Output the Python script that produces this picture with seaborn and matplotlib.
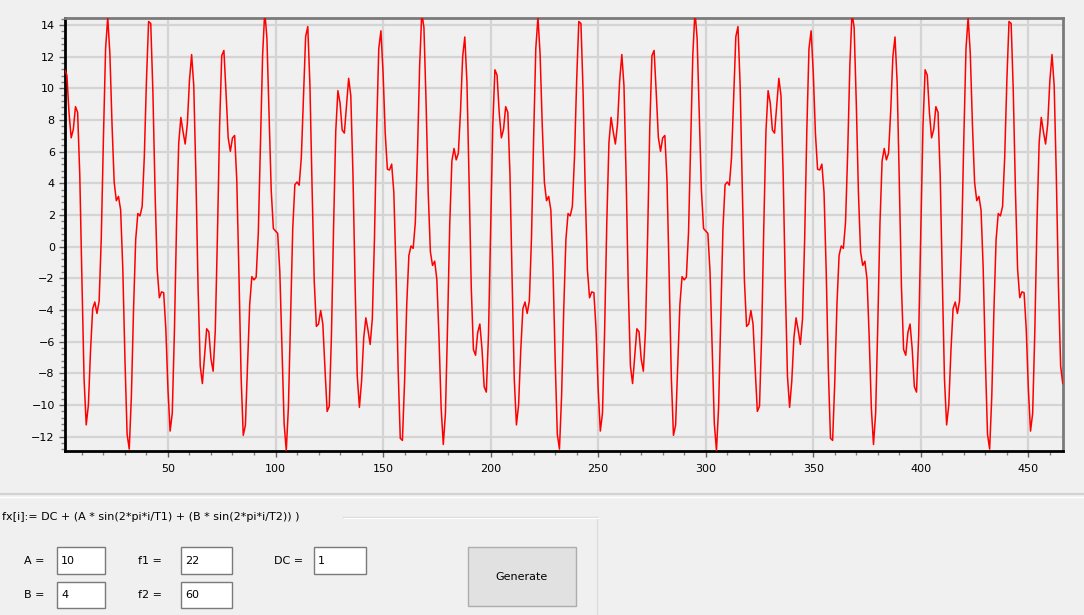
import numpy as np
import pandas as pd
import matplotlib
matplotlib.use("Agg")
import matplotlib.pyplot as plt
from matplotlib.patches import Rectangle
from matplotlib.ticker import MultipleLocator, AutoMinorLocator
import seaborn as sns

# ---------------- data ----------------
sample_index = list(range(2, 467))
fx_values = [
    11.18, 10.84, 8.47, 6.88, 7.41, 8.85, 8.49, 4.55, -2.09, -8.37,
    -11.25, -10.00, -6.57, -3.91, -3.49, -4.21, -3.43, 0.55, 6.88, 12.51,
    14.49, 12.19, 7.70, 4.07, 2.91, 3.18, 2.32, -1.38, -7.09, -11.84,
    -12.78, -9.41, -3.94, 0.46, 2.10, 1.95, 2.55, 5.67, 10.51, 14.23,
    14.10, 9.74, 3.47, -1.44, -3.22, -2.85, -2.90, -5.17, -9.00, -11.64,
    -10.51, -5.33, 1.48, 6.56, 8.17, 7.27, 6.49, 7.76, 10.51, 12.14,
    10.16, 4.42, -2.60, -7.54, -8.64, -6.94, -5.18, -5.37, -7.09, -7.86,
    -5.29, 0.71, 7.61, 12.07, 12.40, 9.72, 6.88, 6.03, 6.88, 7.03,
    4.18, -1.74, -8.20, -11.91, -11.27, -7.52, -3.64, -1.89, -2.09, -1.92,
    0.88, 6.38, 12.11, 14.88, 13.17, 8.37, 3.57, 1.15, 1.00, 0.85,
    -1.57, -6.37, -11.17, -12.88, -10.11, -4.38, 1.12, 3.92, 4.09, 3.89,
    5.64, 9.52, 13.27, 13.91, 10.20, 3.74, -2.18, -5.03, -4.88, -4.03,
    -4.88, -7.72, -10.40, -10.07, -5.61, 1.29, 7.29, 9.86, 9.09, 7.37,
    7.18, 8.94, 10.64, 9.54, 4.60, -2.42, -8.16, -10.14, -8.51, -5.76,
    -4.49, -5.27, -6.17, -4.56, 0.52, 7.33, 12.51, 13.64, 11.00, 7.17,
    4.90, 4.85, 5.22, 3.44, -1.47, -7.74, -12.10, -12.23, -8.51, -3.67,
    -0.55, 0.05, -0.10, 1.54, 5.94, 11.41, 14.78, 13.84, 9.09, 3.38,
    -0.32, -1.18, -0.91, -2.07, -5.70, -10.19, -12.49, -10.51, -4.88, 1.45,
    5.43, 6.21, 5.49, 5.91, 8.57, 12.00, 13.25, 10.37, 4.09, -2.55,
    -6.49, -6.85, -5.41, -4.88, -6.47, -8.84, -9.18, -5.62, 1.00, 7.62,
    11.18, 10.84, 8.47, 6.88, 7.41, 8.85, 8.49, 4.55, -2.09, -8.37,
    -11.25, -10.00, -6.57, -3.91, -3.49, -4.21, -3.43, 0.55, 6.88, 12.51,
    14.49, 12.19, 7.70, 4.07, 2.91, 3.18, 2.32, -1.38, -7.09, -11.84,
    -12.78, -9.41, -3.94, 0.46, 2.10, 1.95, 2.55, 5.67, 10.51, 14.23,
    14.10, 9.74, 3.47, -1.44, -3.22, -2.85, -2.90, -5.17, -9.00, -11.64,
    -10.51, -5.33, 1.48, 6.56, 8.17, 7.27, 6.49, 7.76, 10.51, 12.14,
    10.16, 4.42, -2.60, -7.54, -8.64, -6.94, -5.18, -5.37, -7.09, -7.86,
    -5.29, 0.71, 7.61, 12.07, 12.40, 9.72, 6.88, 6.03, 6.88, 7.03,
    4.18, -1.74, -8.20, -11.91, -11.27, -7.52, -3.64, -1.89, -2.09, -1.92,
    0.88, 6.38, 12.11, 14.88, 13.17, 8.37, 3.57, 1.15, 1.00, 0.85,
    -1.57, -6.37, -11.17, -12.88, -10.11, -4.38, 1.12, 3.92, 4.09, 3.89,
    5.64, 9.52, 13.27, 13.91, 10.20, 3.74, -2.18, -5.03, -4.88, -4.03,
    -4.88, -7.72, -10.40, -10.07, -5.61, 1.29, 7.29, 9.86, 9.09, 7.37,
    7.18, 8.94, 10.64, 9.54, 4.60, -2.42, -8.16, -10.14, -8.51, -5.76,
    -4.49, -5.27, -6.17, -4.56, 0.52, 7.33, 12.51, 13.64, 11.00, 7.17,
    4.90, 4.85, 5.22, 3.44, -1.47, -7.74, -12.10, -12.23, -8.51, -3.67,
    -0.55, 0.05, -0.10, 1.54, 5.94, 11.41, 14.78, 13.84, 9.09, 3.38,
    -0.32, -1.18, -0.91, -2.07, -5.70, -10.19, -12.49, -10.51, -4.88, 1.45,
    5.43, 6.21, 5.49, 5.91, 8.57, 12.00, 13.25, 10.37, 4.09, -2.55,
    -6.49, -6.85, -5.41, -4.88, -6.47, -8.84, -9.18, -5.62, 1.00, 7.62,
    11.18, 10.84, 8.47, 6.88, 7.41, 8.85, 8.49, 4.55, -2.09, -8.37,
    -11.25, -10.00, -6.57, -3.91, -3.49, -4.21, -3.43, 0.55, 6.88, 12.51,
    14.49, 12.19, 7.70, 4.07, 2.91, 3.18, 2.32, -1.38, -7.09, -11.84,
    -12.78, -9.41, -3.94, 0.46, 2.10, 1.95, 2.55, 5.67, 10.51, 14.23,
    14.10, 9.74, 3.47, -1.44, -3.22, -2.85, -2.90, -5.17, -9.00, -11.64,
    -10.51, -5.33, 1.48, 6.56, 8.17, 7.27, 6.49, 7.76, 10.51, 12.14,
    10.16, 4.42, -2.60, -7.54, -8.64,
]
y_ticks = list(range(-12, 15, 2))
x_ticks = list(range(50, 451, 50))
y_range = (-12.9, 14.45)
x_range = (1.9, 466.1)

formula_text = "fx[i]:= DC + (A * sin(2*pi*i/T1) + (B * sin(2*pi*i/T2)) )"
param_labels = ["A =", "B =", "f1 =", "f2 =", "DC ="]
param_values = ["10", "4", "22", "60", "1"]
button_text = "Generate"

assert len(sample_index) == len(fx_values)

# ---------------- figure ----------------
W, H = 1084, 615
BG = "#f0f0f0"
FONT = "DejaVu Sans"
plt.rcParams["font.family"] = [FONT]

fig = plt.figure(figsize=(W / 100, H / 100), dpi=100, facecolor=BG)

# background "window" canvas in pixel coordinates
bg = fig.add_axes([0, 0, 1, 1])
bg.set_xlim(0, W)
bg.set_ylim(H, 0)
bg.axis("off")
bg.patch.set_alpha(0)


def frac_box(l, t, r, b):
    return [l / W, 1 - b / H, (r - l) / W, (b - t) / H]


ax = fig.add_axes(frac_box(64.5, 18, 1063, 451))
ax.set_zorder(2)
ax.set_facecolor(BG)

df = pd.DataFrame({"i": sample_index, "fx": fx_values})
sns.lineplot(data=df, x="i", y="fx", ax=ax, color="#ff0000", linewidth=1.1,
             zorder=3, legend=False)

ax.set_xlim(*x_range)
ax.set_ylim(*y_range)
ax.set_xlabel("")
ax.set_ylabel("")

ax.set_yticks(y_ticks)
ax.set_xticks(x_ticks)
ax.yaxis.set_minor_locator(AutoMinorLocator(5))
ax.xaxis.set_minor_locator(MultipleLocator(10))

ax.grid(True, which="major", color="#d4d4d4", linewidth=1.6, zorder=0)
ax.set_axisbelow(True)

ax.tick_params(axis="both", which="major", direction="out", length=4,
               width=1, color="#606060", labelsize=8, labelcolor="#000000")
ax.tick_params(axis="y", which="major", pad=3)
ax.tick_params(axis="x", which="major", pad=5)
ax.tick_params(axis="both", which="minor", direction="out", length=3,
               width=1, color="#808080")

for side in ("left", "bottom"):
    ax.spines[side].set_color("#000000")
    ax.spines[side].set_linewidth(2.0)
for side in ("top", "right"):
    ax.spines[side].set_color("#7a7a7a")
    ax.spines[side].set_linewidth(2.0)

# ---------------- lower control panel ----------------
bg.plot([0, W], [494, 494], color="#d2d2d2", lw=1.6)
bg.plot([0, W], [497, 497], color="#ffffff", lw=1.0)

# group box
bg.plot([343, 597], [517, 517], color="#dcdcdc", lw=1.0)
bg.plot([597, 597], [517, H], color="#dcdcdc", lw=1.0)
bg.plot([344, 598], [518, 518], color="#ffffff", lw=0.8)
bg.text(2, 517, formula_text, fontsize=8, va="center", ha="left",
        color="#000000", family=FONT)

label_pos = [(24, 561), (24, 595), (138, 561), (138, 595), (274, 561)]
box_pos = [(57, 547, 105, 574), (57, 582, 105, 608),
           (181, 547, 232, 574), (181, 582, 232, 608),
           (314, 547, 366, 574)]
for lab, (lx, ly), val, (l, t, r, b) in zip(param_labels, label_pos,
                                             param_values, box_pos):
    bg.text(lx, ly, lab, fontsize=8, va="center", ha="left", color="#000000")
    bg.add_patch(Rectangle((l, t), r - l, b - t, facecolor="#ffffff",
                           edgecolor="#7a7a7a", lw=1.0))
    bg.text(l + 4, (t + b) / 2 + 0.5, val, fontsize=8, va="center", ha="left",
            color="#000000")

# button
bg.add_patch(Rectangle((468, 547), 108, 59, facecolor="#e1e1e1",
                       edgecolor="#adadad", lw=1.0))
bg.text(522, 577, button_text, fontsize=8, va="center", ha="center",
        color="#000000")

fig.savefig("out.png", dpi=100, facecolor=BG)
